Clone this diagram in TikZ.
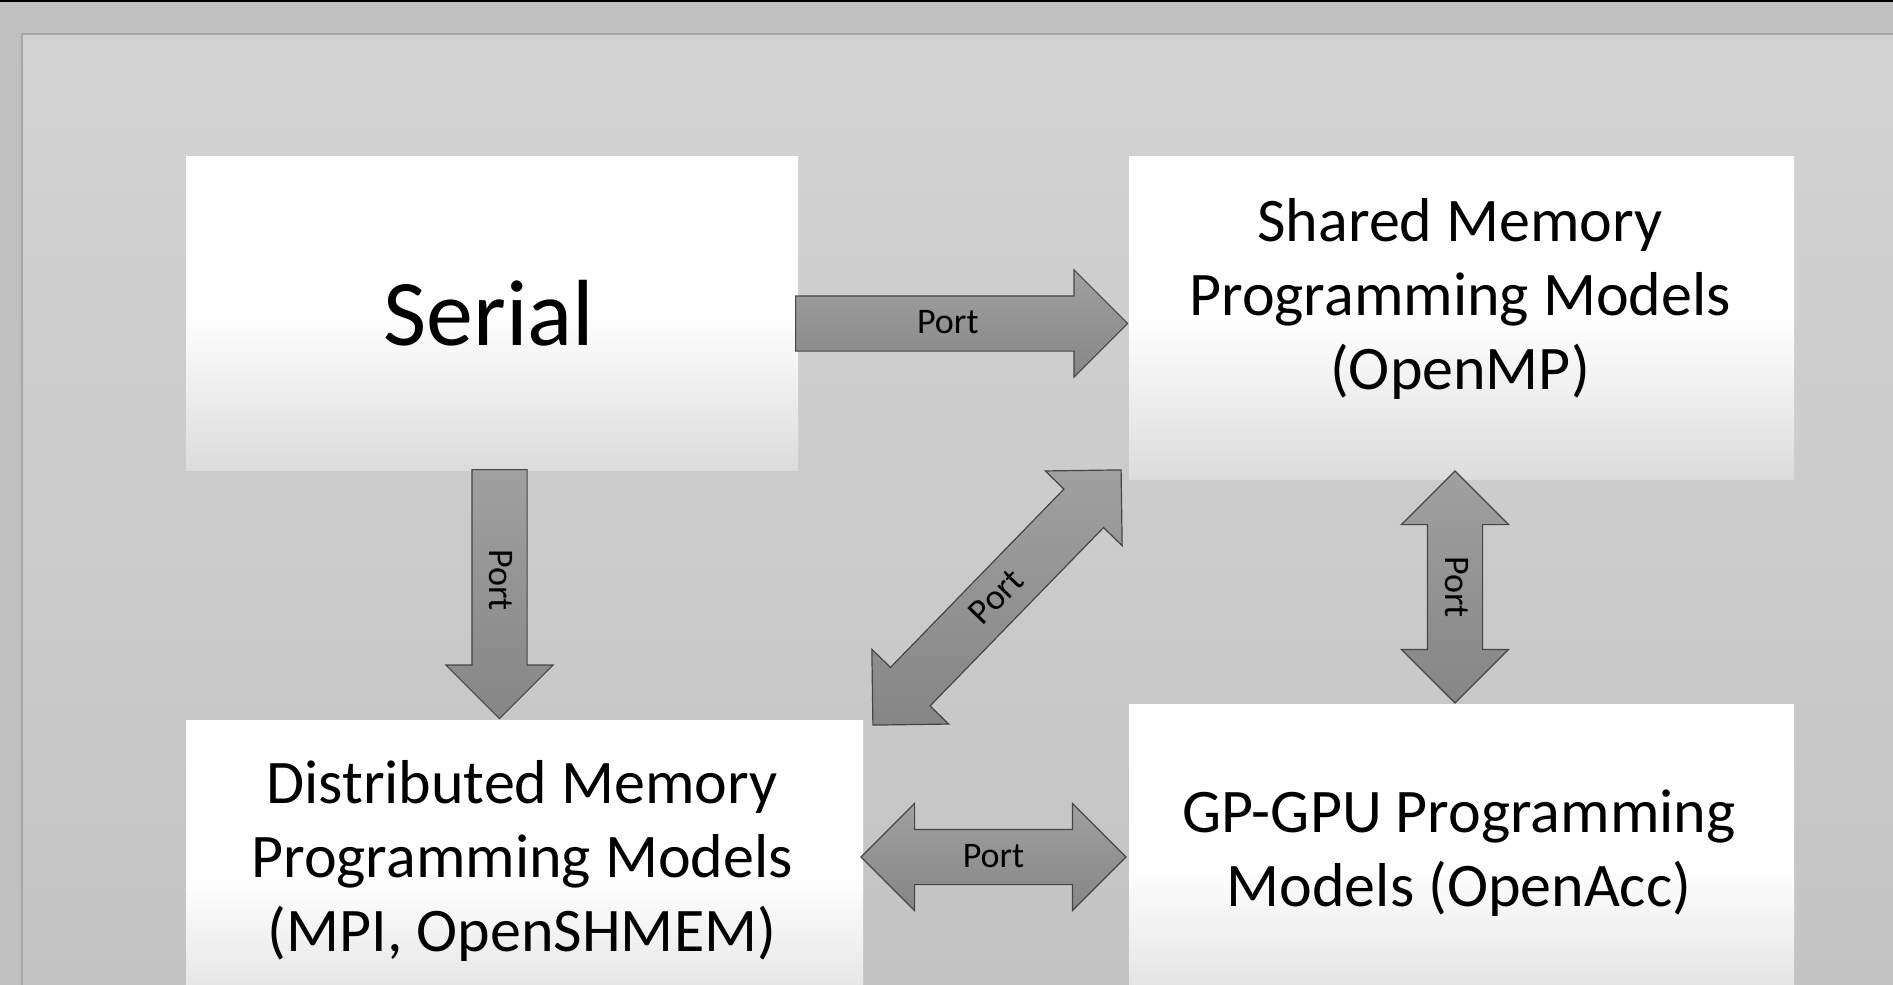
\documentclass[tikz,border=0pt]{standalone}
\usepackage{fontspec}
\setmainfont{Carlito}
\usetikzlibrary{shapes.arrows,positioning}

\definecolor{pagegray}{HTML}{C0C0C0}
\definecolor{paneltop}{HTML}{D3D3D3}
\definecolor{panelbot}{HTML}{C4C4C4}
\definecolor{panelline}{HTML}{A6A6A6}
\definecolor{boxbot}{HTML}{DCDCDC}
\definecolor{arrowtop}{HTML}{A0A0A0}
\definecolor{arrowbot}{HTML}{868686}
\definecolor{arrowline}{HTML}{454545}

\tikzset{
  modelbox/.style={draw=none, inner sep=0pt, top color=white, bottom color=boxbot, middle color=white},
  modeltext/.style={align=center, inner sep=0pt, font=\fontsize{62}{74}\selectfont},
  portarrow/.style={draw=arrowline, line width=1.2pt, top color=arrowtop, bottom color=arrowbot,
    font=\fontsize{36}{42}\selectfont, text height=25pt, text depth=5pt, inner xsep=0pt, inner ysep=12pt},
  portone/.style={portarrow, single arrow, single arrow head extend=26pt, single arrow tip angle=90, anchor=tail},
  porttwo/.style={portarrow, double arrow, double arrow head extend=26pt, double arrow tip angle=90},
}

\begin{document}
\begin{tikzpicture}[x=1pt, y=-1pt]

  \useasboundingbox (0,0) rectangle (1893,985);
  \clip (0,0) rectangle (1893,985);

  % Background
  \fill[pagegray] (0,0) rectangle (1893,985);
  \fill[black] (0,0) rectangle (1893,2);
  \shade[top color=paneltop, bottom color=panelbot] (22,34) rectangle (1893,985);
  \draw[panelline, line width=1.5pt] (22,985) -- (22,34) -- (1893,34);

  % Define boxes
  \node[modelbox, minimum width=612pt, minimum height=314pt] (serial) at (492,313) {};
  \node[modelbox, minimum width=665pt, minimum height=323pt] (shared) at (1461.5,317.5) {};
  \node[modelbox, minimum width=677pt, minimum height=314pt] (dist) at (524.5,877) {};
  \node[modelbox, minimum width=665pt, minimum height=323pt] (gpu) at (1461.5,865.5) {};

  % Box texts
  \node[inner sep=0pt, font=\fontsize{94}{112}\selectfont] (serialtxt) at (489,313) {Serial};
  \node[modeltext] (sharedtxt) at (1460,299) {Shared Memory\\Programming Models\\(OpenMP)};
  \node[modeltext] (disttxt) at (522,861) {Distributed Memory\\Programming Models\\(MPI, OpenSHMEM)};
  \node[modeltext] (gputxt) at (1459,853) {GP-GPU Programming\\Models (OpenAcc)};

  % Port arrows
  \node[portone, minimum height=332pt] (p1) at (795,323.5) {Port};
  \node[portone, minimum height=249pt, rotate=-90] (p2) at (499.5,469) {Port};
  \node[porttwo, minimum height=356pt, rotate=45.8] (p3) at (997,597.5) {Port};
  \node[porttwo, minimum height=232pt, rotate=-90] (p4) at (1455,587) {Port};
  \node[porttwo, minimum height=265pt] (p5) at (993.5,857) {Port};
\end{tikzpicture}
\end{document}
